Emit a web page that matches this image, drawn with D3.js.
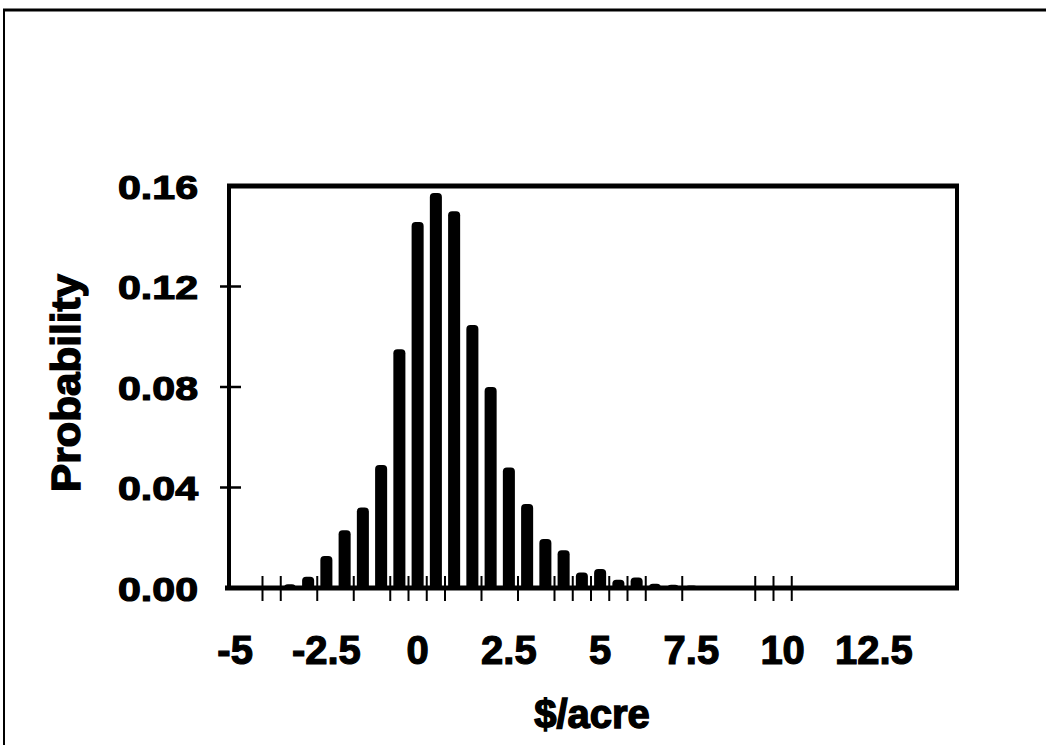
<!DOCTYPE html>
<html><head><meta charset="utf-8">
<script src="https://cdn.jsdelivr.net/npm/d3@7"></script>
<style>html,body{margin:0;padding:0;background:#fff;} svg{display:block;}</style>
</head><body>
<svg id="chart" width="1046" height="745"></svg>
<script>
// ---- data ----
const categories = [-5,-4.5,-4,-3.5,-3,-2.5,-2,-1.5,-1,-0.5,0,0.5,1,1.5,2,2.5,3,3.5,4,4.5,
                    5,5.5,6,6.5,7,7.5,8,8.5,9,9.5,10,10.5,11,11.5,12,12.5,13,13.5,14,14.5];
const probability = [0,0,0.0003,0.0015,0.0045,0.0127,0.023,0.032,0.049,0.095,
                     0.1457,0.1572,0.150,0.1047,0.080,0.048,0.0334,0.0195,0.015,0.0062,
                     0.0076,0.0033,0.0042,0.0017,0.0013,0.001,0.0003,0.0002,0,0,
                     0,0,0,0,0,0,0,0,0,0];
const yTickValues = [0,0.04,0.08,0.12,0.16];
const xLabelValues = [-5,-2.5,0,2.5,5,7.5,10,12.5];
// category boundaries where tick marks are visible on the x axis
const xTickBoundaries = [-4.25,-3.75,-2.75,-1.75,-0.75,-0.25,0.25,0.75,1.75,2.75,3.75,4.25,
                         4.75,5.25,5.75,6.25,7.25,9.25,9.75,10.25];
const yTitle = "Probability";
const xTitle = "$/acre";

// ---- layout ----
const svg = d3.select("#chart");
const plot = {left: 229, right: 957, top: 186, bottom: 588};
const FONT = "'Liberation Sans', Arial, Helvetica, sans-serif";

const x = d3.scaleBand().domain(categories).range([226, 956]).paddingInner(0.34).paddingOuter(0.17);
const xb = d3.scaleLinear().domain([categories[0] - 0.25, categories[categories.length-1] + 0.25]).range([226, 956]);
const y = d3.scaleLinear().domain([0, 0.16]).range([plot.bottom, plot.top]);

const bars = categories.map((c, i) => ({cat: c, value: probability[i]})).filter(d => d.value > 0);

// outer page frame (scan border)
svg.append("line").attr("x1", 3).attr("x2", 1046).attr("y1", 10).attr("y2", 10)
  .attr("stroke", "#000").attr("stroke-width", 3);
svg.append("line").attr("x1", 4).attr("x2", 4).attr("y1", 9).attr("y2", 745)
  .attr("stroke", "#000").attr("stroke-width", 2);

// bars with rounded tops
function barPath(d) {
  const x0 = x(d.cat), w = x.bandwidth();
  const yt = y(d.value), yb = y(0) + 1;
  const h = yb - yt;
  const r = Math.max(0, Math.min(4, h, w / 2));
  return `M${x0},${yb}V${yt + r}Q${x0},${yt} ${x0 + r},${yt}H${x0 + w - r}Q${x0 + w},${yt} ${x0 + w},${yt + r}V${yb}Z`;
}
svg.append("g").selectAll("path").data(bars).join("path")
  .attr("d", barPath)
  .attr("fill", "#000");

// plot frame
const frame = svg.append("g").attr("fill", "none").attr("stroke", "#000");
frame.append("line").attr("x1", plot.left - 2).attr("x2", plot.right + 2).attr("y1", plot.top).attr("y2", plot.top).attr("stroke-width", 5);
frame.append("line").attr("x1", plot.right).attr("x2", plot.right).attr("y1", plot.top).attr("y2", plot.bottom + 2).attr("stroke-width", 4);
frame.append("line").attr("x1", plot.left).attr("x2", plot.left).attr("y1", plot.top - 2).attr("y2", plot.bottom + 2).attr("stroke-width", 4);
frame.append("line").attr("x1", plot.left - 4).attr("x2", plot.right + 2).attr("y1", plot.bottom).attr("y2", plot.bottom).attr("stroke-width", 5);

// y ticks (crossing axis)
svg.append("g").selectAll("line").data(yTickValues.slice(1, -1)).join("line")
  .attr("x1", plot.left - 9).attr("x2", plot.left + 12)
  .attr("y1", d => y(d)).attr("y2", d => y(d))
  .attr("stroke", "#000").attr("stroke-width", 2.5);

// x ticks (crossing axis)
svg.append("g").selectAll("line").data(xTickBoundaries).join("line")
  .attr("x1", d => xb(d)).attr("x2", d => xb(d))
  .attr("y1", plot.bottom - 12).attr("y2", plot.bottom + 13)
  .attr("stroke", "#000").attr("stroke-width", 2);

// y axis labels
const yAxis = d3.axisLeft(y).tickValues(yTickValues).tickFormat(d3.format(".2f")).tickSize(0).tickPadding(0);
const gy = svg.append("g").attr("transform", "translate(198,0)").call(yAxis);
gy.select(".domain").remove();
gy.selectAll("text").attr("font-family", FONT).attr("font-weight", "bold").attr("font-size", 34)
  .attr("fill", "#000").attr("stroke", "#000").attr("stroke-width", 1.2)
  .attr("dy", "0.36em").attr("x", 0)
  .attr("textLength", 80).attr("lengthAdjust", "spacingAndGlyphs");

// x axis labels
const xAxis = d3.axisBottom(x).tickValues(xLabelValues).tickSize(0).tickPadding(0);
const gx = svg.append("g").attr("transform", "translate(0,664)").call(xAxis);
gx.select(".domain").remove();
gx.selectAll("text").attr("font-family", FONT).attr("font-weight", "bold").attr("font-size", 40)
  .attr("fill", "#000").attr("stroke", "#000").attr("stroke-width", 1.2)
  .attr("dy", 0).attr("y", 0);

// titles
svg.append("text").attr("transform", "translate(80,383) rotate(-90)")
  .attr("text-anchor", "middle").attr("font-family", FONT).attr("font-weight", "bold")
  .attr("font-size", 40).attr("textLength", 218).attr("lengthAdjust", "spacingAndGlyphs")
  .attr("stroke", "#000").attr("stroke-width", 1.4)
  .text(yTitle);
svg.append("text").attr("x", 592).attr("y", 728)
  .attr("text-anchor", "middle").attr("font-family", FONT).attr("font-weight", "bold")
  .attr("font-size", 40).attr("stroke", "#000").attr("stroke-width", 1.4)
  .text(xTitle);
</script>
</body></html>
